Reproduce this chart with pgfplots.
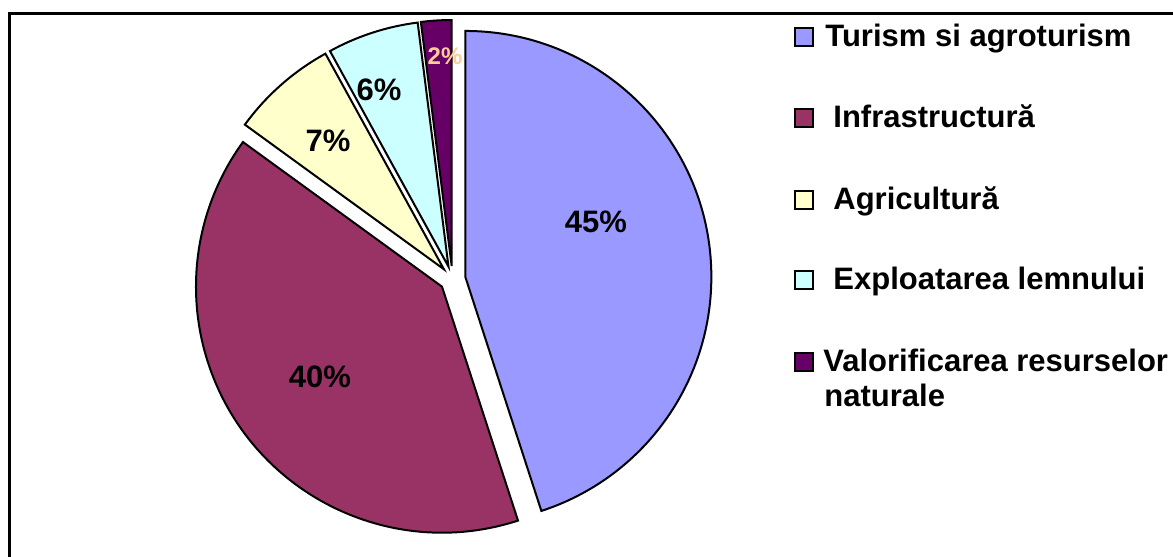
\documentclass[border=0pt]{standalone}
\usepackage{pgfplots}
\pgfplotsset{compat=1.18}
\usepackage{pgfplotstable}
\usepackage{fontspec}
\setmainfont{Liberation Sans}

\definecolor{turism}{HTML}{9999FF}
\definecolor{infra}{HTML}{993366}
\definecolor{agri}{HTML}{FFFFCC}
\definecolor{lemn}{HTML}{CCFFFF}
\definecolor{resurse}{HTML}{660066}
\definecolor{labelorange}{HTML}{FFCC99}

% share in %, fill, label centre (1 unit = 1 px of the frame, y up), label colour and size
\pgfplotstableread{
value col     lx  ly  lcol        lsize
45    turism  596 335 black       15.5
40    infra   320 180 black       15.5
7     agri    328 416 black       15.5
6     lemn    379 467 black       15.5
2     resurse 445 501 labelorange 12
}\piedata

\newcommand\pct[1]{\fontsize{#1}{#1}\selectfont\bfseries}
\newcommand\legfont{\fontsize{15.5}{18}\selectfont\bfseries}

% slices clockwise from 12 o'clock, each pulled out along its bisector
\gdef\piecmds{}
\gdef\labelcmds{}
\xdef\cumul{90}
\foreach \i in {0,...,4}{
  \pgfplotstablegetelem{\i}{value}\of\piedata \let\v\pgfplotsretval
  \pgfplotstablegetelem{\i}{col}\of\piedata \let\c\pgfplotsretval
  \pgfplotstablegetelem{\i}{lx}\of\piedata \let\lx\pgfplotsretval
  \pgfplotstablegetelem{\i}{ly}\of\piedata \let\ly\pgfplotsretval
  \pgfplotstablegetelem{\i}{lcol}\of\piedata \let\lc\pgfplotsretval
  \pgfplotstablegetelem{\i}{lsize}\of\piedata \let\ls\pgfplotsretval
  \pgfmathsetmacro\stopang{\cumul-3.6*\v}
  \pgfmathsetmacro\midang{\cumul-1.8*\v}
  \xdef\piecmds{\unexpanded\expandafter{\piecmds}
    \noexpand\filldraw[fill=\c, draw=black, line width=1pt, line join=miter]
      (axis cs:452.5,278) ++(\midang:6.5pt) -- ++(\cumul:123pt)
      arc[start angle=\cumul, end angle=\stopang, radius=123pt] -- cycle;}
  \xdef\labelcmds{\unexpanded\expandafter{\labelcmds}
    \noexpand\node[text=\lc, inner sep=0pt, font={\noexpand\pct{\ls}}]
      at (axis cs:\lx,\ly) {\v\noexpand\%};}
  \xdef\cumul{\stopang}
}

\begin{document}
\begin{tikzpicture}
\begin{axis}[
    width=586.5pt, height=278.5pt, scale only axis,
    xmin=0, xmax=1173, ymin=0, ymax=557,
    hide axis,
  ]
  \coordinate (ll) at (rel axis cs:0,0);
  \coordinate (ur) at (rel axis cs:1,1);
  % chart frame (right and bottom edges fall outside)
  \draw[line width=1.2pt, line join=miter] (axis cs:9.5,0) -- (axis cs:9.5,543.5) -- (axis cs:1173,543.5);

  \piecmds
  \labelcmds

  % legend
  \filldraw[fill=turism, line width=1pt]  (axis cs:795,511) rectangle (axis cs:813,529);
  \filldraw[fill=infra, line width=1pt]   (axis cs:795,430) rectangle (axis cs:813,448);
  \filldraw[fill=agri, line width=1pt]    (axis cs:795,348) rectangle (axis cs:813,366);
  \filldraw[fill=lemn, line width=1pt]    (axis cs:795,268) rectangle (axis cs:813,286);
  \filldraw[fill=resurse, line width=1pt] (axis cs:795,186) rectangle (axis cs:813,204);
  \node[anchor=base west, inner sep=0pt, font=\legfont] at (axis cs:825,510) {Turism si agroturism};
  \node[anchor=base west, inner sep=0pt, font=\legfont] at (axis cs:833,429) {Infrastructură};
  \node[anchor=base west, inner sep=0pt, font=\legfont] at (axis cs:833,347) {Agricultură};
  \node[anchor=base west, inner sep=0pt, font=\legfont] at (axis cs:833,267) {Exploatarea lemnului};
  \node[anchor=base west, inner sep=0pt, font=\legfont] at (axis cs:823,185) {Valorificarea resurselor};
  \node[anchor=base west, inner sep=0pt, font=\legfont] at (axis cs:824,150) {naturale};
\end{axis}
\pgfresetboundingbox
\useasboundingbox (ll) rectangle (ur);
\end{tikzpicture}
\end{document}
